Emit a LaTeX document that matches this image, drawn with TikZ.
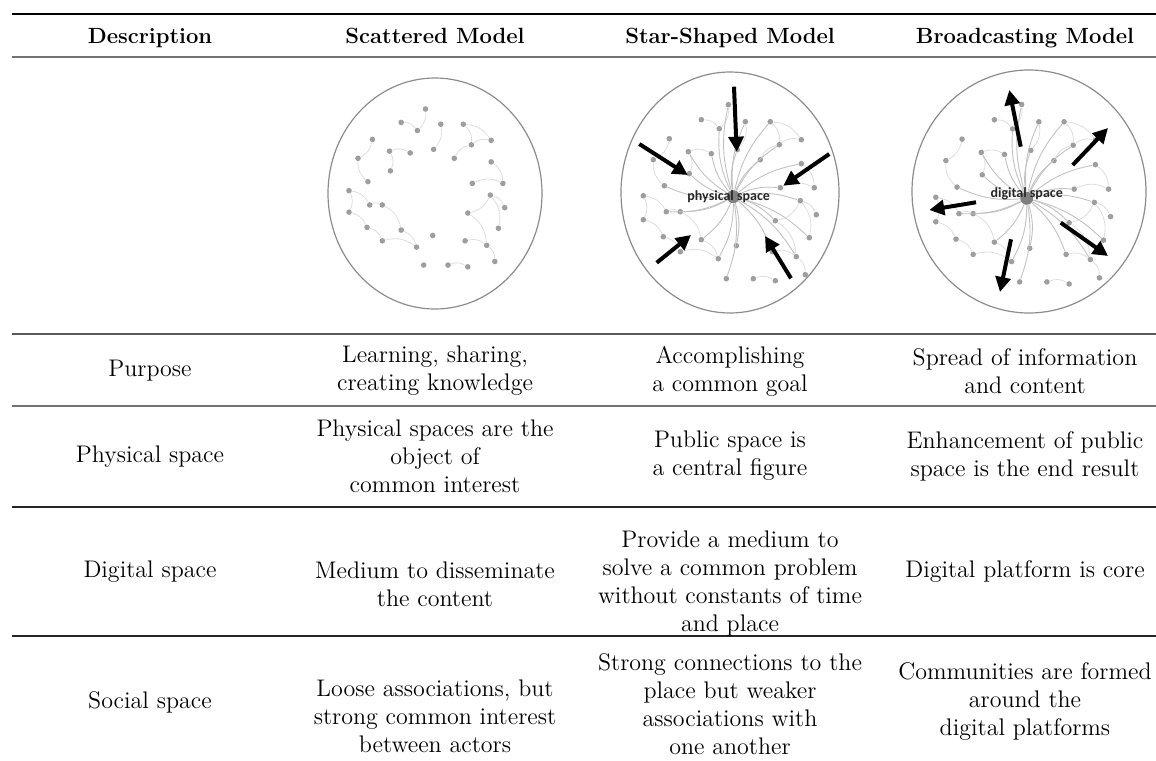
\documentclass[tikz,border=0pt]{standalone}
\usepackage{fontspec}
\newfontfamily\tagfont{Carlito}
\usetikzlibrary{arrows.meta}

\tikzset{
  toprule/.style={line width=1pt, black},
  midrule/.style={line width=0.7pt, black!55},
  rowrule/.style={line width=0.55pt, black!85},
  head/.style={font=\fontsize{11}{13}\selectfont\bfseries, anchor=base},
  cell/.style={align=center, inner sep=0pt, font=\fontsize{12}{14}\selectfont},
  ring/.style={draw=black!45, line width=0.6pt},
  actor/.style={circle, fill=black!38, inner sep=0pt, minimum size=2.8pt},
  hub/.style={circle, fill=black!50, inner sep=0pt, minimum size=6.5pt},
  tie/.style={draw=black!13, line width=0.4pt},
  spoke/.style={draw=black!24, line width=0.45pt},
  tag/.style={font=\tagfont\bfseries\fontsize{7}{8}\selectfont, text=black!85, inner sep=0pt},
  bigarrow/.style={line width=2pt, -{Triangle[length=7.5pt,width=7.5pt]}}
}

\begin{document}
\begin{tikzpicture}[x=0.5pt,y=-0.5pt]
\useasboundingbox (0,0) rectangle (1156,760);

% table rules
\draw[toprule] (12,14) -- (1156,14);
\draw[midrule] (12,57) -- (1156,57);
\draw[rowrule, black!65] (12,334) -- (1156,334);
\draw[midrule] (12,406) -- (1156,406);
\draw[rowrule] (12,507) -- (1156,507);
\draw[rowrule] (12,636) -- (1156,636);

% header
\node[head] (hdesc) at (150,43.5) {Description};
\node[head] (hscat) at (435,43.5) {Scattered Model};
\node[head] (hstar) at (730,43.5) {Star-Shaped Model};
\node[head] (hbroad) at (1025,43.5) {Broadcasting Model};

% the three network pictures
\def\actors{-5/-92,12/-75,-14/-68,-32/-77,37/-75,68/-57,46/-52,4/-47,-64/-58,-45/-45,
  -22/-43,-80/-37,27/-37,68/-33,47/-9,81/-9,-69/-11,-90/-1,-67/15,-53/15,-90/23,67/4,
  83/18,42/24,-70/40,-32/43,-53/55,3/49,76/41,-15/62,63/60,72/78,-7/82,20/82,-44/-23,
  39/55,42/84}
\def\ties{1/3,4/3,2/8,5/6,5/7,7/6,14/16,15/16,10/11,10/35,22/24,22/23,22/29,24/31,
  26/30,27/30,36/31,31/32,34/37,18/21,18/19,19/20,21/25,17/12,9/12,25/27,13/7,20/26}
\def\spokes{1,2,3,8,5,7,13,11,10,35,17,19,20,26,28,30,24,15,22,14,29,31,36,33}

\draw[ring] (435,193.5) ellipse [x radius=107, y radius=115.5];
\draw[ring] (730,192.5) ellipse [x radius=109, y radius=120.5];
\draw[ring] (1029,191.5) ellipse [x radius=117, y radius=121.5];

\foreach \cx/\cy/\sx/\sy/\pre in {430/191.5/0.9/0.897/s, 733.3/196.7/1/1/p, 1026.7/198.3/1.01/1.02/d} {
  \begin{scope}[shift={(\cx,\cy)}, xscale=\sx, yscale=\sy]
    \foreach \dx/\dy [count=\i] in \actors
      \node[actor] (\pre\i) at (\dx,\dy) {};
    \foreach \a/\b in \ties
      \draw[tie] (\pre\a) to[bend left=25] (\pre\b);
  \end{scope}
}

% hubs with their spokes
\node[hub] (phub) at (733.3,196.7) {};
\node[hub] (dhub) at (1026.7,198.3) {};
\foreach \i in \spokes {
  \draw[spoke] (phub) to[bend left=14] (p\i);
  \draw[spoke] (dhub) to[bend left=14] (d\i);
}
\node[tag] (plabel) at (728.7,197) {physical space};
\node[tag] (dlabel) at (1026.7,194) {digital space};

% inward arrows
\begin{scope}[shift={(733.3,196.7)}]
  \foreach \ax/\ay/\bx/\by in {0.7/-110/3.4/-45, -94/-52.7/-45.6/-21.7, 96/-42.7/50/-11,
    -76.6/66/-42.3/38.3, 57.7/81.6/31.7/39.3}
    \draw[bigarrow] (\ax,\ay) -- (\bx,\by);
\end{scope}
% outward arrows
\begin{scope}[shift={(1026.7,198.3)}]
  \foreach \ax/\ay/\bx/\by in {-6/-51.6/-17.4/-108.3, 46/-33.3/81.3/-70.3, -50.7/4/-97.4/11.7,
    34/24.4/81.3/57.7, -15.7/41/-26.7/93.7}
    \draw[bigarrow] (\ax,\ay) -- (\bx,\by);
\end{scope}

% body rows
\node[cell] (purp) at (150,371) {Purpose};
\node[cell] (purpS) at (435,371) {Learning, sharing,\\creating knowledge};
\node[cell] (purpT) at (730,371) {Accomplishing\\a common goal};
\node[cell] (purpB) at (1025,371) {Spread of information\\and content};

\node[cell] (phys) at (150,457) {Physical space};
\node[cell] (physS) at (435,456) {Physical spaces are the\\object of\\common interest};
\node[cell] (physT) at (730,456) {Public space is\\a central figure};
\node[cell] (physB) at (1025,456) {Enhancement of public\\space is the end result};

\node[cell] (digi) at (150,572) {Digital space};
\node[cell] (digiS) at (435,584) {Medium to disseminate\\the content};
\node[cell] (digiT) at (730,583) {Provide a medium to\\solve a common problem\\without constants of time\\and place};
\node[cell] (digiB) at (1025,572) {Digital platform is core};

\node[cell] (soci) at (150,702) {Social space};
\node[cell] (sociS) at (435,716) {Loose associations, but\\strong common interest\\between actors};
\node[cell] (sociT) at (730,704) {Strong connections to the\\place but weaker\\associations with\\one another};
\node[cell] (sociB) at (1025,702) {Communities are formed\\around the\\digital platforms};
\end{tikzpicture}
\end{document}
